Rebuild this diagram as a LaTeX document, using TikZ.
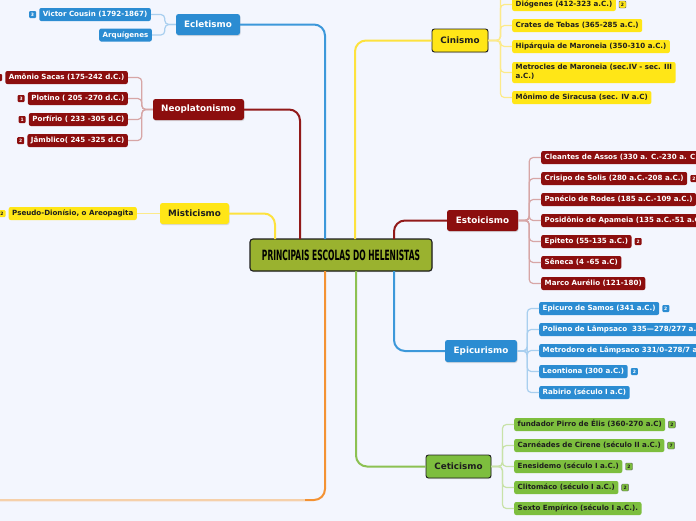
\documentclass[tikz,border=0pt]{standalone}
\usepackage{fontspec}
\setmainfont{DejaVu Sans}
\usetikzlibrary{shadows,calc}
\definecolor{bg}{HTML}{F3F6FE}
\definecolor{bluen}{HTML}{2B8CD2}
\definecolor{bluel}{HTML}{A9CFEF}
\definecolor{bluem}{HTML}{3C98DA}
\definecolor{redn}{HTML}{8C0E0E}
\definecolor{redl}{HTML}{D7A6A6}
\definecolor{redm}{HTML}{921A1A}
\definecolor{yeln}{HTML}{FFE617}
\definecolor{yell}{HTML}{FCEA8A}
\definecolor{yelm}{HTML}{FDE23E}
\definecolor{grnn}{HTML}{7DBE3E}
\definecolor{grnl}{HTML}{C8E2A8}
\definecolor{grnm}{HTML}{8CC152}
\definecolor{ctr}{HTML}{9AB22F}
\definecolor{orgm}{HTML}{F39233}
\definecolor{orgl}{HTML}{F5D0AA}
\definecolor{dark}{HTML}{1E1E1E}
\tikzset{
  leaf/.style={rounded corners=2pt, font=\bfseries\fontsize{7.1}{8.4}\selectfont,
    inner xsep=3.5pt, inner ysep=0pt, minimum height=13pt, text height=5.5pt, text depth=1.5pt},
  bleaf/.style={leaf, fill=bluen, text=white},
  rleaf/.style={leaf, fill=redn, text=white},
  yleaf/.style={leaf, fill=yeln, text=dark},
  gleaf/.style={leaf, fill=grnn, text=dark},
  topic/.style={rounded corners=2.5pt, font=\bfseries\fontsize{8.8}{10}\selectfont,
    inner sep=0pt, minimum height=21pt,
    drop shadow={opacity=0.25, shadow xshift=0.6pt, shadow yshift=-1pt}},
  badge/.style={rounded corners=1pt, minimum size=7pt, inner sep=0pt,
    font=\bfseries\fontsize{4.5}{5}\selectfont},
  bbadge/.style={badge, fill=bluen, text=white},
  rbadge/.style={badge, fill=redn, text=white},
  ybadge/.style={badge, fill=yeln, draw=dark!70, line width=0.4pt, text=dark},
  gbadge/.style={badge, fill=grnn, draw=dark!70, line width=0.4pt, text=dark},
  sub/.style={line width=1.2pt, rounded corners=4pt},
  mainline/.style={line width=2pt, rounded corners=11pt},
}
\begin{document}
\begin{tikzpicture}[x=1pt,y=-1pt]
\useasboundingbox (0,0) rectangle (696,520);
\clip (0,0) rectangle (696,520);
\fill[bg] (-5,-5) rectangle (701,525);

% ---------- main topic nodes
\node[topic, fill=ctr, draw=dark, line width=1.1pt, minimum width=182pt, minimum height=32pt, rounded corners=3pt] (ctr) at (341,255)
  {\resizebox{158pt}{10.5pt}{\bfseries PRINCIPAIS ESCOLAS DO HELENISTAS}};
\node[topic, fill=bluen, text=white, minimum width=64pt] (ecl) at (208,24.5) {Ecletismo};
\node[topic, fill=redn, text=white, minimum width=91pt] (neo) at (198.5,109.5) {Neoplatonismo};
\node[topic, fill=yeln, text=dark, minimum width=69pt] (mis) at (194.5,213.5) {Misticismo};
\node[topic, fill=yeln, text=dark, draw=dark, line width=0.9pt, minimum width=56pt, minimum height=23pt] (cin) at (460,40.5) {Cinismo};
\node[topic, fill=redn, text=white, minimum width=71pt] (est) at (482.5,220.5) {Estoicismo};
\node[topic, fill=bluen, text=white, minimum width=72pt, minimum height=22pt] (epi) at (481,351) {Epicurismo};
\node[topic, fill=grnn, text=dark, draw=dark, line width=0.9pt, minimum width=65pt, minimum height=23pt] (cet) at (458.5,466.5) {Ceticismo};

% connector start points on the central node
\coordinate (t1) at (275,239);
\coordinate (t2) at (300,239);
\coordinate (t3) at (325,239);
\coordinate (t4) at (355,239);
\coordinate (t5) at (394,239);
\coordinate (b3) at (325,271);
\coordinate (b4) at (356,271);
\coordinate (b5) at (394,271);
\coordinate (offleft) at (-10,500);
\coordinate (cinhid) at (512,-14);

% ---------- main connectors
\draw[mainline, bluem] (t3) |- (ecl.east);
\draw[mainline, redm] (t2) |- (neo.east);
\draw[mainline, yelm] (t1) |- (mis.east);
\draw[mainline, yelm] (t4) |- (cin.west);
\draw[mainline, redm] (t5) |- (est.west);
\draw[mainline, bluem] (b5) |- (epi.west);
\draw[mainline, grnm] (b4) |- (cet.west);
\draw[mainline, orgm] (b3) |- (offleft);
\draw[line width=1.6pt, orgl] (305,500) -- (offleft);

% ---------- Ecletismo
\node[bleaf, anchor=east] (vc) at (151,14.5) {Victor Cousin (1792-1867)};
\node[bleaf, anchor=east] (arq) at (152,35) {Arquígenes};
\node[bbadge] at ([xshift=-6.5pt]vc.west) {3};
\foreach \n in {vc,arq} \draw[sub, bluel] (ecl.west) -- ++(-11,0) |- (\n.east);

% ---------- Neoplatonismo
\node[rleaf, anchor=east] (n1) at (128,77.5) {Amônio Sacas (175-242 d.C.)};
\node[rleaf, anchor=east] (n2) at (128,98.5) {Plotino ( 205 -270 d.C.)};
\node[rleaf, anchor=east] (n3) at (128,119.5) {Porfírio ( 233 -305 d.C)};
\node[rleaf, anchor=east] (n4) at (128,140.5) {Jâmblico( 245 -325 d.C)};
\node[rbadge] at ([xshift=-6.5pt]n1.west) {3};
\node[rbadge] at ([xshift=-6.5pt]n2.west) {3};
\node[rbadge] at ([xshift=-6.5pt]n3.west) {1};
\node[rbadge] at ([xshift=-6.5pt]n4.west) {2};
\foreach \n in {n1,n2,n3,n4} \draw[sub, redl] (neo.west) -- ++(-11,0) |- (\n.east);

% ---------- Misticismo
\node[yleaf, anchor=east] (pd) at (137,213.5) {Pseudo-Dionísio, o Areopagita};
\node[badge, fill=yeln, text=dark] at ([xshift=-6.5pt]pd.west) {2};
\draw[sub, yell] (mis.west) -- (pd.east);

% ---------- Cinismo
\node[yleaf, anchor=west] (c1) at (512,4.5) {Diógenes (412-323 a.C.)};
\node[yleaf, anchor=west] (c2) at (512,25.5) {Crates de Tebas (365-285 a.C.)};
\node[yleaf, anchor=west] (c3) at (512,46.5) {Hipárquia de Maroneia (350-310 a.C.)};
\node[yleaf, anchor=west, align=left, minimum height=21pt, text height=12.5pt] (c4) at (512,72.5) {Metrocles de Maroneia (sec.IV - sec. III\\a.C.)};
\node[yleaf, anchor=west] (c5) at (512,97.5) {Mônimo de Siracusa (sec. IV a.C)};
\node[ybadge] at ([xshift=6.5pt]c1.east) {2};
\foreach \n in {c1,c2,c3,c4,c5} \draw[sub, yell] (cin.east) -- ++(12,0) |- (\n.west);
\draw[sub, yell] (cin.east) -- ++(12,0) |- (cinhid);

% ---------- Estoicismo
\node[rleaf, anchor=west] (s1) at (541,157.5) {Cleantes de Assos (330 a. C.-230 a. C.)};
\node[rleaf, anchor=west] (s2) at (541,178.5) {Crisipo de Solis (280 a.C.-208 a.C.)};
\node[rleaf, anchor=west] (s3) at (541,199.5) {Panécio de Rodes (185 a.C.-109 a.C.)};
\node[rleaf, anchor=west] (s4) at (541,220.5) {Posidônio de Apameia (135 a.C.-51 a.C.)};
\node[rleaf, anchor=west] (s5) at (541,241.5) {Epiteto (55-135 a.C.)};
\node[rleaf, anchor=west] (s6) at (541,262.5) {Sêneca (4 -65 a.C)};
\node[rleaf, anchor=west] (s7) at (541,283.5) {Marco Aurélio (121-180)};
\node[rbadge] at ([xshift=6.5pt]s2.east) {2};
\node[rbadge] at ([xshift=6.5pt]s5.east) {2};
\foreach \n in {s1,s2,s3,s4,s5,s6,s7} \draw[sub, redl] (est.east) -- ++(11,0) |- (\n.west);

% ---------- Epicurismo
\node[bleaf, anchor=west] (e1) at (539,308.5) {Epicuro de Samos (341 a.C.)};
\node[bleaf, anchor=west] (e2) at (539,329.5) {Polieno de Lâmpsaco \ 335—278/277 a.C.};
\node[bleaf, anchor=west] (e3) at (539,350.5) {Metrodoro de Lâmpsaco 331/0–278/7 a.C.};
\node[bleaf, anchor=west] (e4) at (539,371.5) {Leontiona (300 a.C.)};
\node[bleaf, anchor=west] (e5) at (539,392.5) {Rabirio (século I a.C)};
\node[bbadge] at ([xshift=6.5pt]e1.east) {2};
\node[bbadge] at ([xshift=6.5pt]e4.east) {2};
\foreach \n in {e1,e2,e3,e4,e5} \draw[sub, bluel] (epi.east) -- ++(10,0) |- (\n.west);

% ---------- Ceticismo
\node[gleaf, anchor=west] (k1) at (514,424.5) {fundador Pirro de Élis (360-270 a.C)};
\node[gleaf, anchor=west] (k2) at (514,445.5) {Carnéades de Cirene (século II a.C.)};
\node[gleaf, anchor=west] (k3) at (514,466.5) {Enesidemo (século I a.C.)};
\node[gleaf, anchor=west] (k4) at (514,487.5) {Clitomáco (século I a.C.)};
\node[gleaf, anchor=west] (k5) at (514,508.5) {Sexto Empírico (século I a.C.).};
\node[gbadge] at ([xshift=6.5pt]k1.east) {2};
\node[gbadge] at ([xshift=6.5pt]k2.east) {7};
\node[gbadge] at ([xshift=6.5pt]k3.east) {2};
\node[gbadge] at ([xshift=6.5pt]k4.east) {2};
\foreach \n in {k1,k2,k3,k4,k5} \draw[sub, grnl] (cet.east) -- ++(11,0) |- (\n.west);

\end{tikzpicture}
\end{document}
